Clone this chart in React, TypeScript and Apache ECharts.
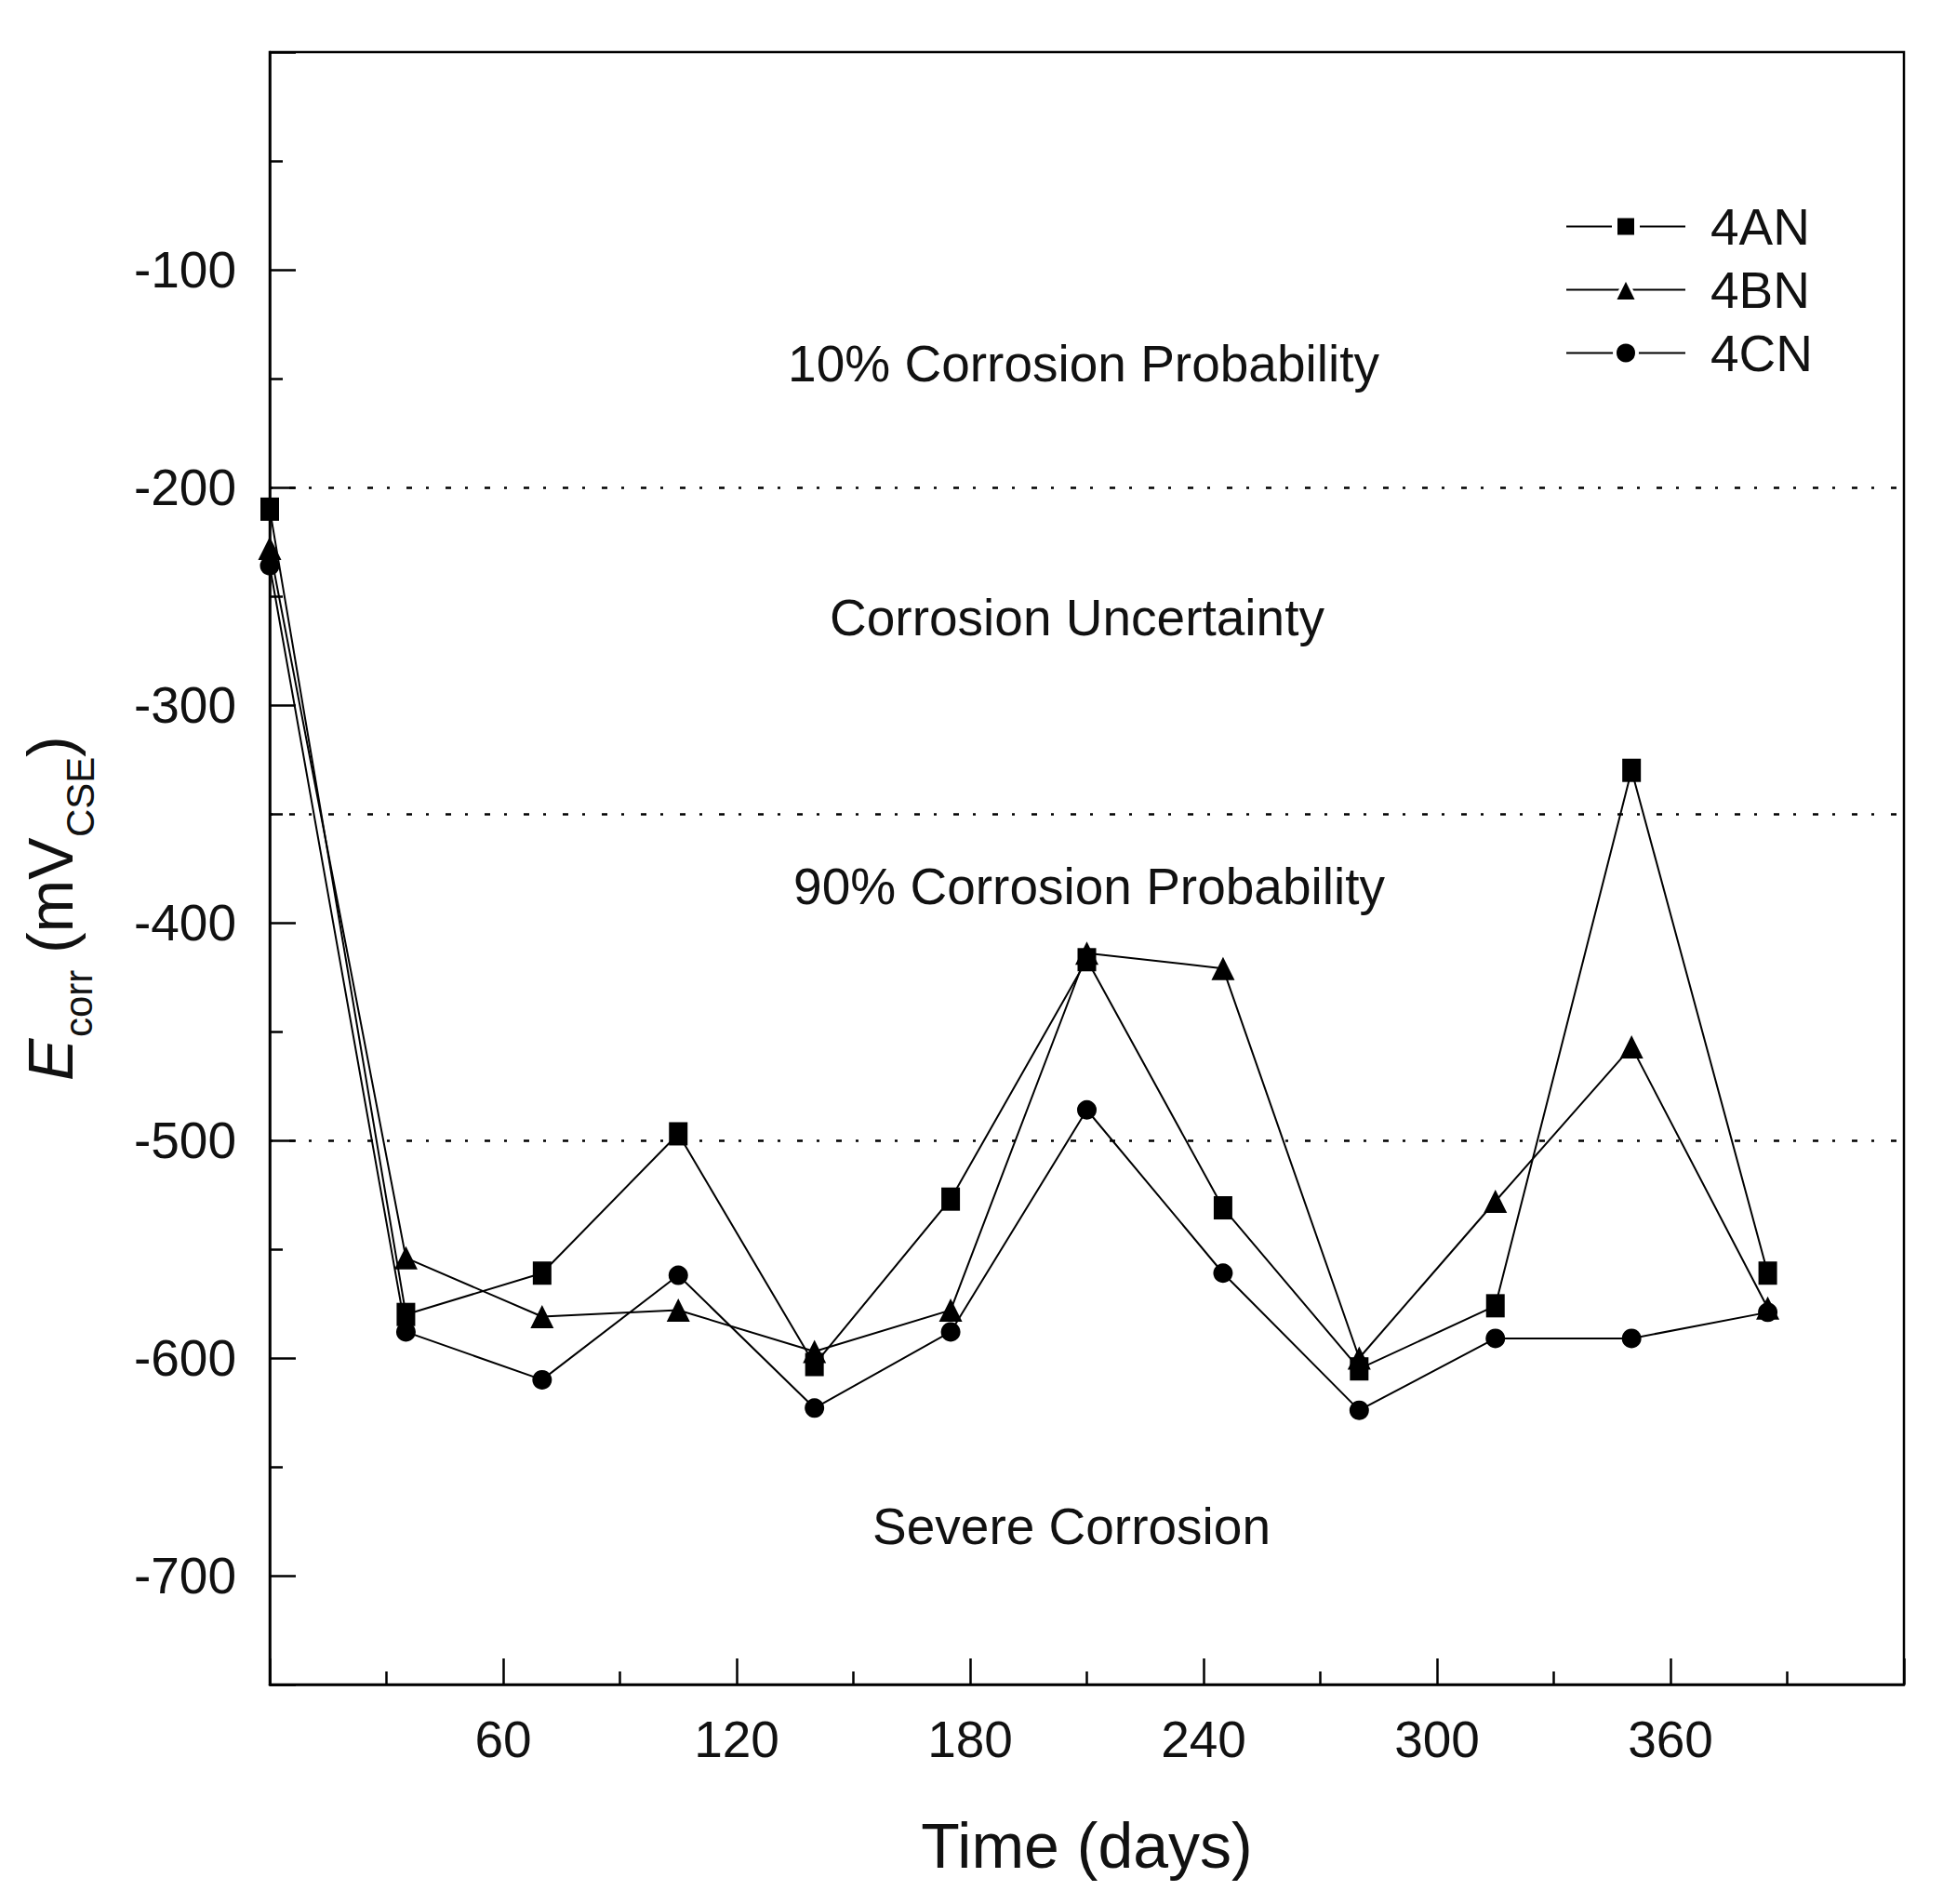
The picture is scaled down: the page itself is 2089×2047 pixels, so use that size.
import React, { useEffect, useRef } from 'react';
import * as echarts from 'echarts';

const FONT = '"Liberation Sans", Arial, Helvetica, sans-serif';

const days = [0, 35, 70, 105, 140, 175, 210, 245, 280, 315, 350, 385];
const seriesNames = ['4AN', '4BN', '4CN'];
const values4AN = [-210, -580, -561, -497, -603, -527, -417, -531, -605, -576, -330, -561];
const values4BN = [-228, -554, -581, -578, -597, -578, -414, -421, -600, -528, -457, -577];
const values4CN = [-236, -588, -610, -562, -623, -588, -486, -561, -624, -591, -591, -579];
const thresholds = [-200, -350, -500];
const regionLabels = [
  '10% Corrosion Probability',
  'Corrosion Uncertainty',
  '90% Corrosion Probability',
  'Severe Corrosion',
];
const xRange = [0, 420];
const yRange = [-750, 0];

export default function App() {
  const ref = useRef<HTMLDivElement>(null);
  useEffect(() => {
    document.body.style.margin = '0';
    const chart = echarts.init(ref.current as HTMLDivElement, null, { renderer: 'svg' });
    const black = '#000';
    const mkSeries = (name: string, vals: number[], symbol: string, size: any, z: number) => ({
      name,
      type: 'line',
      data: days.map((d, i) => [d, vals[i]]),
      symbol,
      symbolSize: size,
      showSymbol: true,
      lineStyle: { color: black, width: 2 },
      itemStyle: { color: black },
      emphasis: { disabled: true },
      z,
    });
    const s1: any = mkSeries(seriesNames[0], values4AN, 'rect', [20, 25], 2);
    s1.markLine = {
      silent: true,
      symbol: 'none',
      label: { show: false },
      lineStyle: { color: black, width: 2.5, type: [3, 18, 6, 15] },
      emphasis: { disabled: true },
      data: thresholds.map((t) => ({ yAxis: t })),
    };
    const s2 = mkSeries(seriesNames[1], values4BN, 'triangle', 25, 4);
    const s3 = mkSeries(seriesNames[2], values4CN, 'circle', 21, 3);

    const regionPos = [
      [1165, 391],
      [1158, 664],
      [1171, 953],
      [1152, 1641],
    ];
    const legendBorders = [6, 3, 4];

    chart.setOption({
      animation: false,
      backgroundColor: '#fff',
      textStyle: { fontFamily: FONT },
      grid: {
        left: 290,
        top: 56,
        right: 42,
        bottom: 236,
        show: true,
        borderColor: black,
        borderWidth: 2.5,
        backgroundColor: 'transparent',
        outerBoundsMode: 'none',
      },
      xAxis: {
        type: 'value',
        min: xRange[0],
        max: xRange[1],
        interval: 60,
        axisLine: { show: true, onZero: false, lineStyle: { color: black, width: 2.5 } },
        axisTick: { show: true, inside: true, length: 28, lineStyle: { color: black, width: 2.5 } },
        minorTick: { show: true, splitNumber: 2, length: 14, lineStyle: { color: black, width: 2.5 } },
        axisLabel: {
          margin: 31,
          fontSize: 55,
          color: '#111',
          fontFamily: FONT,
          formatter: (v: number) => (v === xRange[0] || v === xRange[1] ? '' : String(v)),
        },
        splitLine: { show: false },
        minorSplitLine: { show: false },
        name: 'Time (days)',
        nameLocation: 'middle',
        nameGap: 139,
        nameTextStyle: { fontSize: 68, color: '#111', fontFamily: FONT },
      },
      yAxis: {
        type: 'value',
        min: yRange[0],
        max: yRange[1],
        splitNumber: 8,
        minInterval: 100,
        maxInterval: 100,
        axisLine: { show: true, onZero: false, lineStyle: { color: black, width: 2.5 } },
        axisTick: { show: true, inside: true, length: 28, lineStyle: { color: black, width: 2.5 } },
        minorTick: { show: true, splitNumber: 2, length: 14, lineStyle: { color: black, width: 2.5 } },
        axisLabel: {
          margin: 36,
          fontSize: 55,
          color: '#111',
          fontFamily: FONT,
          formatter: (v: number) => (v % 100 === 0 && v !== 0 ? String(v) : ''),
        },
        splitLine: { show: false },
        minorSplitLine: { show: false },
      },
      legend: {
        show: true,
        orient: 'vertical',
        left: 1683,
        top: 216,
        padding: 0,
        itemWidth: 128,
        itemHeight: 30,
        itemGap: 13,
        data: seriesNames.map((n, i) => ({
          name: n,
          itemStyle: { borderColor: '#fff', borderWidth: legendBorders[i] },
        })),
        textStyle: {
          fontSize: 55,
          lineHeight: 55,
          color: '#111',
          fontFamily: FONT,
          padding: [0, 0, 0, 22],
        },
        selectedMode: false,
      },
      series: [s1, s2, s3],
      graphic: [
        ...regionLabels.map((t, i) => ({
          type: 'text',
          x: regionPos[i][0],
          y: regionPos[i][1],
          silent: true,
          style: {
            text: t,
            fontSize: 55,
            fontFamily: FONT,
            fill: '#111',
            align: 'center',
            verticalAlign: 'middle',
          },
        })),
        {
          type: 'group',
          x: 78,
          y: 1162,
          rotation: Math.PI / 2,
          silent: true,
          children: [
            {
              type: 'text',
              x: 0,
              y: -23.6,
              style: { text: 'E', fontSize: 68, fontStyle: 'italic', fontFamily: FONT, fill: '#111', align: 'left', verticalAlign: 'middle' },
            },
            {
              type: 'text',
              x: 47,
              y: 6,
              style: { text: 'corr', fontSize: 42, fontFamily: FONT, fill: '#111', align: 'left', verticalAlign: 'middle' },
            },
            {
              type: 'text',
              x: 118,
              y: -23.6,
              style: { text: ' (mV', fontSize: 68, fontFamily: FONT, fill: '#111', align: 'left', verticalAlign: 'middle' },
            },
            {
              type: 'text',
              x: 262,
              y: 8,
              style: { text: 'CSE', fontSize: 42, fontFamily: FONT, fill: '#111', align: 'left', verticalAlign: 'middle' },
            },
            {
              type: 'text',
              x: 348,
              y: -23.6,
              style: { text: ')', fontSize: 68, fontFamily: FONT, fill: '#111', align: 'left', verticalAlign: 'middle' },
            },
          ],
        },
      ],
    });
    return () => chart.dispose();
  }, []);
  return <div ref={ref} style={{ width: 2089, height: 2047 }} />;
}
